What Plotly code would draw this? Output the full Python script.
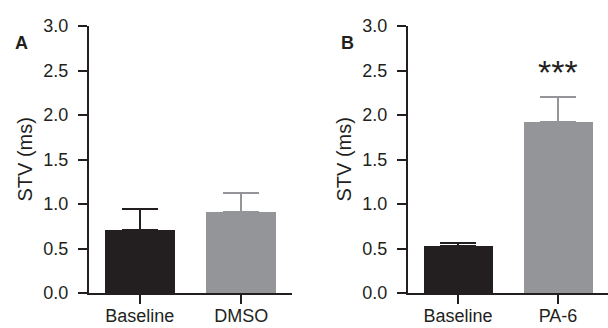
import plotly.graph_objects as go

# Data
categories_a = ["Baseline", "DMSO"]
values_a = [0.71, 0.91]
errors_a = [0.23, 0.21]

categories_b = ["Baseline", "PA-6"]
values_b = [0.53, 1.92]
errors_b = [0.03, 0.28]

y_ticks = [0.0, 0.5, 1.0, 1.5, 2.0, 2.5, 3.0]
panel_labels = ["A", "B"]
significance_b = "***"
sig_y_b = 2.48
y_title = "STV (ms)"

colors = ["#231f20", "#939598"]
ink = "#231f20"
font_family = "Arial, Liberation Sans, Helvetica, sans-serif"

W, H = 608, 328
fig = go.Figure()

for i, (cats, vals, errs) in enumerate([(categories_a, values_a, errors_a),
                                        (categories_b, values_b, errors_b)]):
    xa = "x" if i == 0 else "x2"
    ya = "y" if i == 0 else "y2"
    for j, (c, v, e) in enumerate(zip(cats, vals, errs)):
        fig.add_trace(go.Bar(
            x=[c], y=[v], width=0.69,
            marker=dict(color=colors[j], line=dict(width=0)),
            error_y=dict(type="data", symmetric=False, array=[e], arrayminus=[0],
                         color=colors[j], thickness=2, width=18),
            xaxis=xa, yaxis=ya, showlegend=False, hoverinfo="skip",
        ))

dom_a = [89 / W, 292 / W]
dom_b = [408 / W, 1.0]

axis_common = dict(showline=True, linecolor=ink, linewidth=2, ticks="outside",
                   ticklen=9, tickwidth=2, tickcolor=ink, showgrid=False,
                   zeroline=False)
yfont = dict(family=font_family, size=18, color=ink)
xfont = dict(family=font_family, size=18, color=ink)

fig.update_layout(
    width=W, height=H,
    margin=dict(l=0, r=0, t=26, b=35, autoexpand=False),
    plot_bgcolor="white", paper_bgcolor="white",
    bargap=0,
    xaxis=dict(domain=dom_a, range=[-0.5, 1.5], type="category", anchor="y",
               ticklabelstandoff=-4, tickfont=xfont, **axis_common),
    yaxis=dict(domain=[0, 1], range=[0, 3], tickvals=y_ticks, tickformat=".1f",
               anchor="x", ticklabelstandoff=6, tickfont=yfont, **axis_common),
    xaxis2=dict(domain=dom_b, range=[-0.5, 1.5], type="category", anchor="y2",
                ticklabelstandoff=-4, tickfont=xfont, **axis_common),
    yaxis2=dict(domain=[0, 1], range=[0, 3], tickvals=y_ticks, tickformat=".1f",
                anchor="x2", ticklabelstandoff=6, tickfont=yfont, **axis_common),
)

annotations = []
for lbl, x in zip(panel_labels, [21, 347]):
    annotations.append(dict(text=f"<b>{lbl}</b>", x=x / W, y=1 - 21 / H, xref="paper", yref="paper",
                            yanchor="middle", xanchor="center", showarrow=False,
                            font=dict(family=font_family, size=18, color=ink)))
for x in [24, 343]:
    annotations.append(dict(text=y_title, x=x / W, y=1.5, xref="paper", yref="y",
                            textangle=-90, xanchor="center", yanchor="middle", showarrow=False,
                            font=dict(family=font_family, size=20, color=ink)))
annotations.append(dict(text=significance_b, x=categories_b[1], y=sig_y_b, xref="x2", yref="y2",
                        xanchor="center", yanchor="middle", showarrow=False,
                        font=dict(family=font_family, size=34, color=ink)))
fig.update_layout(annotations=annotations)

fig.write_html("out.html", config={"displayModeBar": False},
               post_script="document.body.style.margin='0';document.body.style.overflow='hidden';")
